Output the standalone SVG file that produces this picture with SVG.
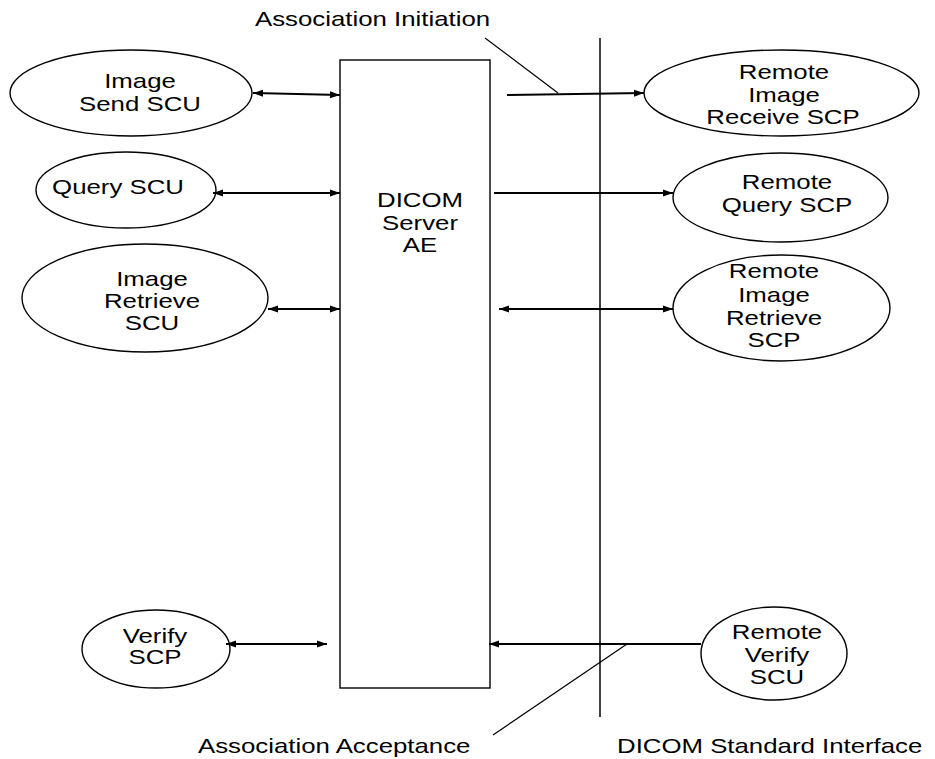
<svg xmlns="http://www.w3.org/2000/svg" width="935" height="759" viewBox="0 0 935 759">
<style>
.n{fill:#fff;stroke:#000;stroke-width:1.4}
.t{font-family:"Liberation Sans",Arial,sans-serif;font-size:20px;fill:#000;text-anchor:middle}
.s{text-anchor:start}
.c{fill:none;stroke:#000;stroke-width:2}
.l{fill:none;stroke:#000;stroke-width:1.2}
</style>
<defs>
<marker id="ah" markerUnits="userSpaceOnUse" markerWidth="11" markerHeight="8" refX="10" refY="4" orient="auto-start-reverse">
<path d="M0,0.5 L10,4 L0,7.5 z" fill="#000"/>
</marker>
</defs>
<rect width="935" height="759" fill="#fff"/>

<g id="server">
<rect class="n" x="340" y="60" width="150" height="628" stroke-width="1.8"/>
<text class="t" transform="matrix(1.29 0 0 1 420 207)">DICOM</text>
<text class="t" transform="matrix(1.29 0 0 1 420 230)">Server</text>
<text class="t" transform="matrix(1.29 0 0 1 420 252)">AE</text>
</g>

<g id="interface">
<line x1="600" y1="38" x2="600" y2="717" stroke="#000" stroke-width="1.5"/>
</g>

<g id="image-send-scu">
<ellipse class="n" cx="131" cy="93" rx="121" ry="43"/>
<text class="t" transform="matrix(1.29 0 0 1 140 88)">Image</text>
<text class="t" transform="matrix(1.29 0 0 1 140 111)">Send SCU</text>
</g>
<g id="query-scu">
<ellipse class="n" cx="126" cy="190" rx="90" ry="38"/>
<text class="t" transform="matrix(1.29 0 0 1 118 194)">Query SCU</text>
</g>
<g id="image-retrieve-scu">
<ellipse class="n" cx="145" cy="298" rx="123" ry="54"/>
<text class="t" transform="matrix(1.29 0 0 1 152 286)">Image</text>
<text class="t" transform="matrix(1.29 0 0 1 152 308)">Retrieve</text>
<text class="t" transform="matrix(1.29 0 0 1 152 330)">SCU</text>
</g>
<g id="verify-scp">
<ellipse class="n" cx="156" cy="649" rx="74" ry="39"/>
<text class="t" transform="matrix(1.29 0 0 1 155 643)">Verify</text>
<text class="t" transform="matrix(1.29 0 0 1 155 664)">SCP</text>
</g>

<g id="remote-image-receive-scp">
<ellipse class="n" cx="781.5" cy="93" rx="137.5" ry="43"/>
<text class="t" transform="matrix(1.29 0 0 1 784 79)">Remote</text>
<text class="t" transform="matrix(1.29 0 0 1 784 102)">Image</text>
<text class="t" transform="matrix(1.29 0 0 1 783 124)">Receive SCP</text>
</g>
<g id="remote-query-scp">
<ellipse class="n" cx="780.5" cy="197.5" rx="107.5" ry="44.5"/>
<text class="t" transform="matrix(1.29 0 0 1 787 189)">Remote</text>
<text class="t" transform="matrix(1.29 0 0 1 787 212)">Query SCP</text>
</g>
<g id="remote-image-retrieve-scp">
<ellipse class="n" cx="781.5" cy="308" rx="108.5" ry="53"/>
<text class="t" transform="matrix(1.29 0 0 1 774 278)">Remote</text>
<text class="t" transform="matrix(1.29 0 0 1 774 302)">Image</text>
<text class="t" transform="matrix(1.29 0 0 1 774 325)">Retrieve</text>
<text class="t" transform="matrix(1.29 0 0 1 774 347)">SCP</text>
</g>
<g id="remote-verify-scu">
<ellipse class="n" cx="774" cy="653.5" rx="73" ry="46.5"/>
<text class="t" transform="matrix(1.29 0 0 1 777 639)">Remote</text>
<text class="t" transform="matrix(1.29 0 0 1 777 662)">Verify</text>
<text class="t" transform="matrix(1.29 0 0 1 777 684)">SCU</text>
</g>

<g id="connectors">
<line class="c" x1="253" y1="93" x2="340" y2="95" marker-start="url(#ah)" marker-end="url(#ah)"/>
<line class="c" x1="213" y1="193" x2="340" y2="193" marker-start="url(#ah)" marker-end="url(#ah)"/>
<line class="c" x1="268" y1="309" x2="340" y2="309" marker-start="url(#ah)" marker-end="url(#ah)"/>
<line class="c" x1="226" y1="644" x2="327" y2="644" marker-start="url(#ah)" marker-end="url(#ah)"/>
<line class="c" x1="507" y1="95" x2="644" y2="93" marker-end="url(#ah)"/>
<line class="c" x1="494" y1="193" x2="673" y2="193" marker-end="url(#ah)"/>
<line class="c" x1="499" y1="309" x2="673" y2="309" marker-start="url(#ah)" marker-end="url(#ah)"/>
<line class="c" x1="701" y1="644" x2="489" y2="644" marker-end="url(#ah)"/>
<line class="l" x1="485" y1="38" x2="558" y2="93"/>
<line class="l" x1="627" y1="644" x2="493" y2="735"/>
</g>

<g id="labels">
<text class="t s" transform="matrix(1.29 0 0 1 255 26)">Association Initiation</text>
<text class="t s" transform="matrix(1.29 0 0 1 198 753)">Association Acceptance</text>
<text class="t s" transform="matrix(1.29 0 0 1 617 753)">DICOM Standard Interface</text>
</g>
</svg>
